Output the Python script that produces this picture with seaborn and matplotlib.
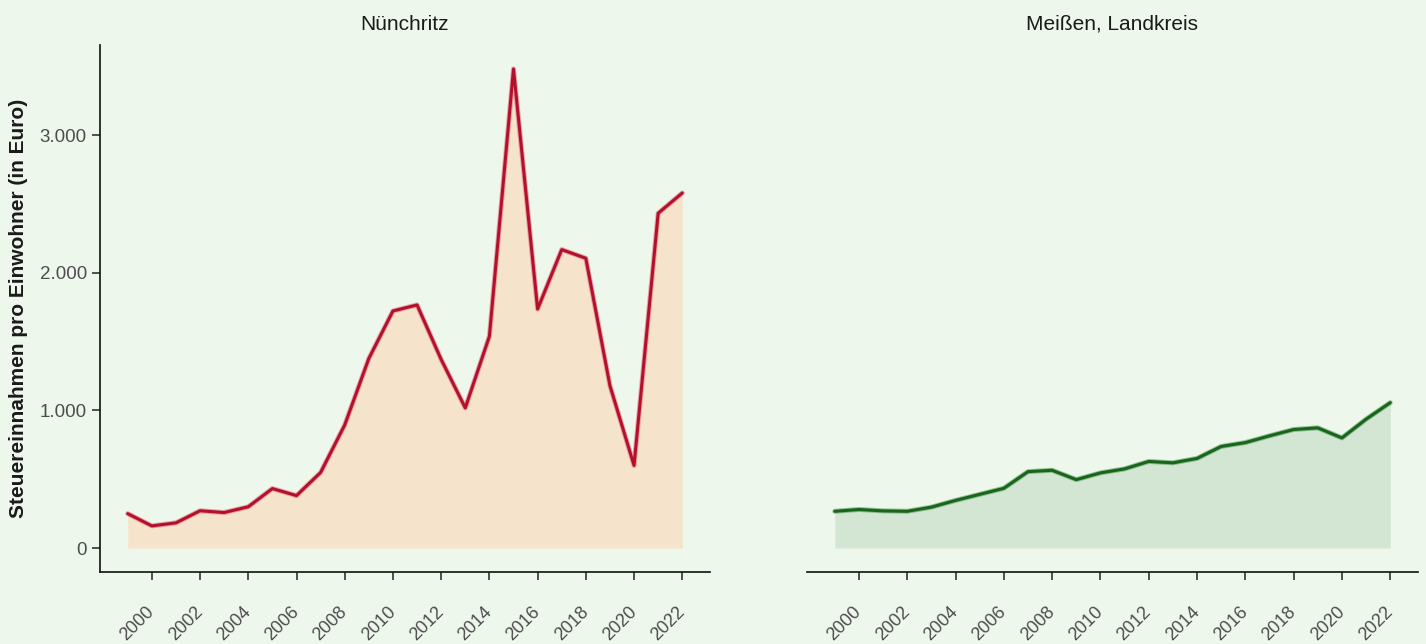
import matplotlib
matplotlib.use("Agg")
import matplotlib.pyplot as plt
import matplotlib.ticker as mticker
import pandas as pd
import seaborn as sns

years = list(range(1999, 2023))
nuenchritz = [250, 161, 183, 271, 258, 300, 432, 381, 549, 894, 1377, 1722,
              1766, 1370, 1018, 1538, 3480, 1736, 2168, 2105, 1180, 600, 2432, 2579]
meissen = [267, 280, 270, 267, 297, 346, 390, 434, 555, 565, 497, 546,
           575, 629, 619, 651, 738, 766, 815, 861, 873, 800, 936, 1056]
panel_titles = ["Nünchritz", "Meißen, Landkreis"]
y_ticks = [0, 1000, 2000, 3000]
y_label = "Steuereinnahmen pro Einwohner (in Euro)"

bg = "#EDF7EC"
line_colors = ["#B5102B", "#17661B"]
halo_colors = ["#E0707F", "#5F9A5F"]
fill_colors = ["#F5E3CC", "#D3E6D3"]

sns.set_theme(style="ticks")
plt.rcParams["font.family"] = ["Liberation Sans", "DejaVu Sans"]

df = pd.DataFrame({"year": years + years,
                   "value": nuenchritz + meissen,
                   "region": [panel_titles[0]] * len(years) + [panel_titles[1]] * len(years)})

fig = plt.figure(figsize=(14.26, 6.44), dpi=100, facecolor=bg)
W, H = 1426, 644
ax_left = fig.add_axes([100 / W, (H - 572) / H, 610 / W, (572 - 45) / H])
ax_right = fig.add_axes([807 / W, (H - 572) / H, 611 / W, (572 - 45) / H], sharey=ax_left)

for ax, title, lc, hc, fc in zip([ax_left, ax_right], panel_titles, line_colors, halo_colors, fill_colors):
    sub = df[df["region"] == title]
    ax.set_facecolor(bg)
    ax.fill_between(sub["year"], 0, sub["value"], color=fc, linewidth=0)
    # soft halo under the main line
    sns.lineplot(data=sub, x="year", y="value", color=hc, linewidth=3.6, alpha=0.6, ax=ax)
    sns.lineplot(data=sub, x="year", y="value", color=lc, linewidth=2.2, ax=ax)
    ax.set_xlim(1997.85, 2023.15)
    ax.set_ylim(-174, 3654)
    ax.set_xticks(range(2000, 2023, 2))
    ax.tick_params(axis="x", length=6, width=1.2, color="#333333", labelsize=13,
                   labelcolor="#4D4D4D", pad=21, labelrotation=45)
    for lbl in ax.get_xticklabels():
        lbl.set_ha("right")
        lbl.set_va("center")
        lbl.set_rotation_mode("anchor")
    ax.set_title(title, fontsize=15, color="#1A1A1A", pad=11)
    ax.set_xlabel("")
    ax.set_ylabel("")
    for side in ["top", "right"]:
        ax.spines[side].set_visible(False)
    ax.spines["bottom"].set_color("#1A1A1A")
    ax.spines["left"].set_color("#1A1A1A")

ax_left.set_yticks(y_ticks)
ax_left.yaxis.set_major_formatter(mticker.FuncFormatter(lambda v, p: f"{int(v):,}".replace(",", ".")))
ax_left.tick_params(axis="y", length=6, width=1.2, color="#333333", labelsize=13.5, labelcolor="#4D4D4D")
ax_left.set_ylabel(y_label, fontsize=15, fontweight="bold", color="#1A1A1A", labelpad=8)

ax_right.spines["left"].set_visible(False)
ax_right.tick_params(axis="y", left=False, labelleft=False)

fig.savefig("out.png", dpi=100, facecolor=bg)
